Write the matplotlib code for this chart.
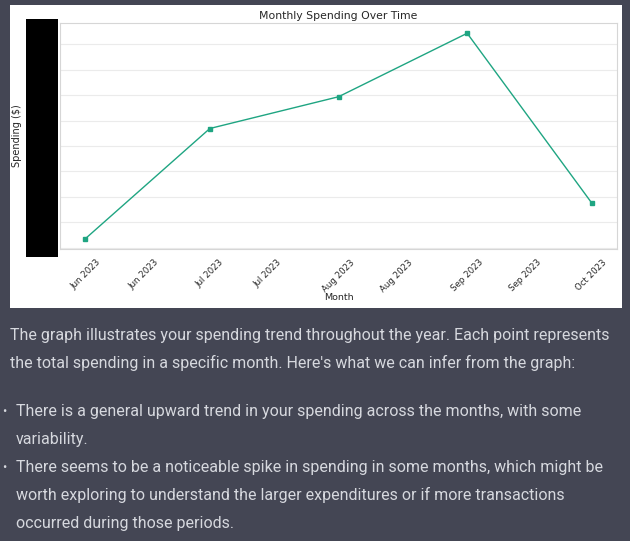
import matplotlib
matplotlib.use('Agg')
import matplotlib.pyplot as plt
import matplotlib.dates as mdates
from matplotlib.patches import Rectangle
from matplotlib.ticker import MultipleLocator
import pandas as pd

# Данные графика
months = pd.to_datetime(['2023-06-01', '2023-07-01', '2023-08-01', '2023-09-01', '2023-10-01'])
spending = [2350, 6690, 7940, 10440, 3760]
tick_dates = pd.to_datetime(['2023-06-01', '2023-06-15', '2023-07-01', '2023-07-15',
                             '2023-08-01', '2023-08-15', '2023-09-01', '2023-09-15',
                             '2023-10-01'])

paragraph = [
    "The graph illustrates your spending trend throughout the year. Each point represents",
    "the total spending in a specific month. Here's what we can infer from the graph:",
]
bullets = [
    ["There is a general upward trend in your spending across the months, with some",
     "variability."],
    ["There seems to be a noticeable spike in spending in some months, which might be",
     "worth exploring to understand the larger expenditures or if more transactions",
     "occurred during those periods."],
]

W, H = 630, 541
BG = '#444654'
TEXT = '#d6d8de'
DARK = '#262626'


def fx(px):
    return px / W


def fy(py):
    return 1 - py / H


fig = plt.figure(figsize=(W / 100, H / 100), dpi=100)
fig.patch.set_facecolor(BG)

# Белая карточка с картинкой графика
fig.add_artist(Rectangle((fx(10), fy(308)), 612 / W, 303 / H, transform=fig.transFigure,
                         facecolor='white', edgecolor='none', zorder=-2))
# Чёрная плашка поверх подписей оси Y
fig.add_artist(Rectangle((fx(26), fy(257)), 32 / W, 238 / H, transform=fig.transFigure,
                         facecolor='black', edgecolor='none', zorder=-1))

ax = fig.add_axes([fx(60), fy(249), 557 / W, 226 / H])
ax.set_facecolor('white')
ax.plot(months, spending, color='#1fa582', lw=1.0, marker='s', ms=2.4)

ax.set_title('Monthly Spending Over Time', fontsize=7.8, color=DARK, pad=3)
ax.set_xlabel('Month', fontsize=6.8, color=DARK, va='center')
ax.xaxis.set_label_coords(0.5, (249 - 298) / 226)
ax.set_ylabel('Spending ($)', fontsize=7, color=DARK, ha='center', va='center')
ax.yaxis.set_label_coords((17 - 60) / 557, 0.5)

ax.set_xticks(tick_dates)
ax.xaxis.set_major_formatter(mdates.DateFormatter('%b %Y'))
ax.tick_params(axis='x', length=0, pad=6.5, labelsize=6.2, labelcolor=DARK)
for lbl in ax.get_xticklabels():
    lbl.set_rotation(45)
    lbl.set_ha('center')

ax.yaxis.set_major_locator(MultipleLocator(1000))
ax.tick_params(axis='y', length=0, labelleft=False)
ax.grid(axis='y', color='#ebebeb', lw=0.8)
ax.set_axisbelow(True)
for s in ax.spines.values():
    s.set_color('#d6d6d6')
    s.set_linewidth(0.8)

# Текст ответа под графиком
font = dict(family=['Roboto', 'DejaVu Sans'], fontsize=11.5, color=TEXT, va='baseline')
y = 340
for line in paragraph:
    fig.text(fx(10), fy(y), line, **font)
    y += 28
y = 416
for item in bullets:
    fig.text(fx(2), fy(y - 1), '•', family=['Roboto', 'DejaVu Sans'], fontsize=9,
             color=TEXT, va='baseline')
    for line in item:
        fig.text(fx(16), fy(y), line, **font)
        y += 28

fig.savefig('out.png', dpi=100, facecolor=BG)
